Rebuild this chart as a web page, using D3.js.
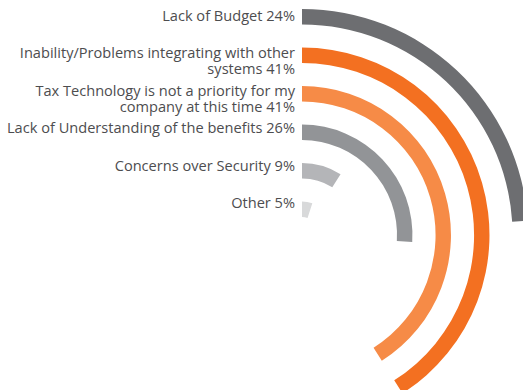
<!DOCTYPE html>
<html>
<head>
<meta charset="utf-8">
<script src="https://cdn.jsdelivr.net/npm/d3@7"></script>
<style>
  body { margin: 0; background: #fff; }
  svg text { font-family: "Open Sans", sans-serif; font-size: 14.6px; fill: #4d4d4f; }
</style>
</head>
<body>
<svg id="chart"></svg>
<script>
// Section for Data
var categories = [
    "Lack of Budget",
    "Inability/Problems integrating with other systems",
    "Tax Technology is not a priority for my company at this time",
    "Lack of Understanding of the benefits",
    "Concerns over Security",
    "Other"
];
var values = [24, 41, 41, 26, 9, 5];
// label lines as printed (last line gets the percentage)
var labelLines = [
    ["Lack of Budget"],
    ["Inability/Problems integrating with other", "systems"],
    ["Tax Technology is not a priority for my", "company at this time"],
    ["Lack of Understanding of the benefits"],
    ["Concerns over Security"],
    ["Other"]
];
var colors = ["#6d6e71", "#f37021", "#f68b47", "#929497", "#b4b5b8", "#d8d9da"];

var width = 523, height = 390;
var cx = 302, cy = 235;
var lineHeight = 15.8;

var svg = d3.select("#chart")
    .attr("width", width)
    .attr("height", height);

var g = svg.append("g")
    .attr("transform", "translate(" + cx + "," + cy + ")");

// angle: 100% is a full circle
var angle = d3.scaleLinear()
    .domain([0, 100])
    .range([0, 2 * Math.PI]);

// radius bands, innermost category is the last one
var radius = d3.scaleBand()
    .domain(categories.slice().reverse())
    .range([18, 226])
    .paddingInner(0.6)
    .paddingOuter(0);

// labels drift a little relative to the bars
var labelR = d3.scaleLinear()
    .domain([26, 218])
    .range([32, 219]);

var arc = d3.arc()
    .innerRadius(function (d) { return radius(d.cat); })
    .outerRadius(function (d) { return radius(d.cat) + radius.bandwidth(); })
    .startAngle(0)
    .endAngle(function (d) { return angle(d.value); });

var data = categories.map(function (c, i) {
    return { cat: c, value: values[i], lines: labelLines[i], color: colors[i] };
});

// Draw the arcs
g.selectAll("path.bar")
    .data(data)
    .enter().append("path")
    .attr("class", "bar")
    .attr("d", arc)
    .attr("fill", function (d) { return d.color; });

// Draw the labels
var labels = g.selectAll("text.label")
    .data(data)
    .enter().append("text")
    .attr("class", "label")
    .attr("text-anchor", "end")
    .attr("x", -7)
    .attr("y", function (d) {
        var mid = radius(d.cat) + radius.bandwidth() / 2;
        return -labelR(mid);
    });

labels.selectAll("tspan")
    .data(function (d) {
        return d.lines.map(function (l, i) {
            return i === d.lines.length - 1 ? l + " " + d.value + "%" : l;
        });
    })
    .enter().append("tspan")
    .attr("x", -7)
    .attr("dy", function (d, i) { return i === 0 ? "0.35em" : lineHeight; })
    .text(function (d) { return d; });
</script>
</body>
</html>
